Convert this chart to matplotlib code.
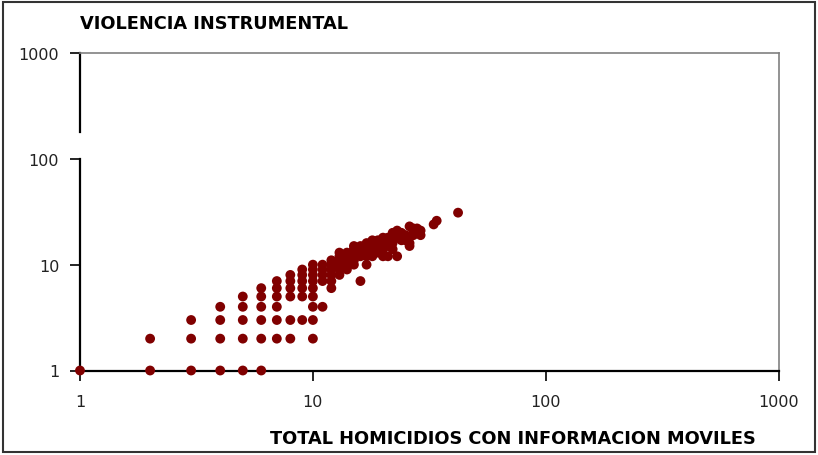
import matplotlib
matplotlib.use("Agg")
import matplotlib.pyplot as plt
from matplotlib.patches import Rectangle

title = "VIOLENCIA INSTRUMENTAL"
xlabel = "TOTAL HOMICIDIOS CON INFORMACION MOVILES"
tick_values = [1, 10, 100, 1000]
tick_labels = ["1", "10", "100", "1000"]

# columns of the scatter: x value -> list of y values
cols = {
    1: [1],
    2: [1, 2],
    3: [1, 2, 3],
    4: [1, 2, 3, 4],
    5: [1, 2, 3, 4, 5],
    6: [1, 2, 3, 4, 5, 6],
    7: [2, 3, 4, 5, 6, 7],
    8: [2, 3, 5, 6, 7, 8],
    9: [3, 5, 6, 7, 8, 9],
    10: [2, 3, 4, 5, 6, 7, 8, 9, 10],
    11: [4, 7, 8, 9, 10],
    12: [6, 7, 8, 9, 10, 11],
    13: [8, 9, 10, 11, 12, 13],
    14: [9, 10, 11, 12, 13],
    15: [10, 11, 12, 14, 15],
    16: [7, 12, 13, 14, 15],
    17: [10, 12, 13, 14, 15, 16],
    18: [12, 13, 14, 15, 16, 17],
    19: [13, 14, 15, 16, 17],
    20: [12, 14, 15, 16, 17, 18],
    21: [12, 15, 17, 18],
    22: [14, 16, 17, 19, 20],
    23: [12, 18, 20, 21],
    24: [17, 18, 19, 20],
    25: [17, 18, 19],
    26: [15, 16, 23],
    27: [19, 20, 22],
    28: [20, 21, 22],
    29: [19, 21],
    33: [24],
    34: [26],
    42: [31],
}
xs = [x for x, ys in cols.items() for _ in ys]
ys = [y for x, yl in cols.items() for y in yl]

W, H = 818, 456
fig = plt.figure(figsize=(W / 100, H / 100), dpi=100)
fig.patch.set_facecolor("white")

ax = fig.add_axes([80 / W, 1 - 371.5 / H, (778.7 - 80) / W, (371.5 - 54) / H])
ax.set_xscale("log")
ax.set_yscale("log")
ax.set_xlim(1, 1000)
ax.set_ylim(1, 1000)

ax.scatter(xs, ys, s=50, color="#800000", edgecolors="none", zorder=5, clip_on=False)

ax.set_xticks(tick_values)
ax.set_xticklabels(tick_labels)
ax.set_yticks(tick_values)
ax.set_yticklabels(tick_labels)
ax.minorticks_off()
ax.tick_params(axis="both", which="major", direction="out", length=7, width=1.2,
               color="black", labelsize=11.5, labelcolor="#222222")
ax.tick_params(axis="x", pad=10)
ax.tick_params(axis="y", pad=8)

for s in ["top", "right"]:
    ax.spines[s].set_color("#808080")
    ax.spines[s].set_linewidth(1.2)
ax.spines["bottom"].set_color("black")
ax.spines["bottom"].set_linewidth(1.6)
ax.spines["left"].set_color("black")
ax.spines["left"].set_linewidth(1.6)
ax.spines["left"].set_bounds(1, 100)
ax.axvline(1, ymin=0.75, ymax=1.0, color="black", linewidth=1.6, clip_on=False)

fig.text(80 / W, 1 - 24 / H, title, fontsize=12.8, fontweight="bold",
         ha="left", va="center", color="black")
fig.text(513 / W, 1 - 439 / H, xlabel, fontsize=12.8, fontweight="bold",
         ha="center", va="center", color="black")

fig.add_artist(Rectangle((3 / W, 3 / H), (W - 6) / W, (H - 6) / H,
                         transform=fig.transFigure, fill=False,
                         edgecolor="#333333", linewidth=1.5))

fig.savefig("out.png", dpi=100, facecolor="white")
